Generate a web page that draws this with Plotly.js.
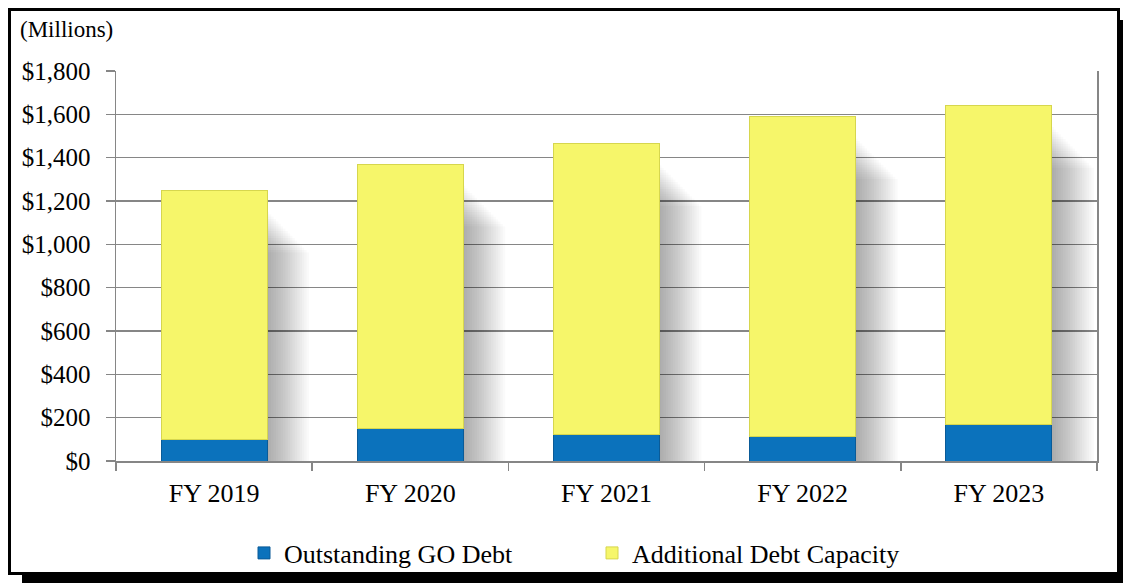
<!DOCTYPE html>
<html>
<head>
<meta charset="utf-8">
<script src="https://cdn.plot.ly/plotly-3.0.1.min.js"></script>
<style>
  html, body { margin: 0; padding: 0; width: 1123px; height: 583px; overflow: hidden; background: #fff; }
  #frame { position: absolute; left: 8px; top: 8px; width: 1106px; height: 561px;
           border: 3px solid #000; box-shadow: 14px 12px 0 #000; background: #fff; }
  #chart { position: absolute; left: 0; top: 0; width: 1123px; height: 583px; }
</style>
</head>
<body>
<div id="frame"></div>
<div id="chart"></div>
<script>
// Data (millions of dollars)
const categories = ['FY 2019', 'FY 2020', 'FY 2021', 'FY 2022', 'FY 2023'];
const outstandingGODebt = [97, 148, 121, 113, 168];
const additionalDebtCapacity = [1153, 1222, 1344, 1475, 1473];
const yTickValues = [0, 200, 400, 600, 800, 1000, 1200, 1400, 1600, 1800];
const yTickLabels = ['$0', '$200', '$400', '$600', '$800', '$1,000', '$1,200', '$1,400', '$1,600', '$1,800'];

const serif = '"Liberation Serif", "Times New Roman", serif';

const traces = [
  {
    type: 'bar', name: 'Outstanding GO Debt', x: categories, y: outstandingGODebt,
    marker: { color: '#0B72BC', line: { color: '#0A5B98', width: 1 } },
    hoverinfo: 'y+name'
  },
  {
    type: 'bar', name: 'Additional Debt Capacity', x: categories, y: additionalDebtCapacity,
    marker: { color: '#F6F66A', line: { color: '#D6D64E', width: 1 } },
    hoverinfo: 'y+name'
  }
];

// soft drop shadows built from the data (many faint layers → blurred look)
const shapes = [];
const halfW = 0.27;
const nLayers = 18;
categories.forEach((c, i) => {
  const total = outstandingGODebt[i] + additionalDebtCapacity[i];
  for (let k = 0; k < nLayers; k++) {
    shapes.push({
      type: 'rect', xref: 'x', yref: 'y', layer: 'between',
      x0: i, x1: i + halfW + 0.01 + k * 0.012,
      y0: 0, y1: Math.max(0, total - 100 - k * 11),
      fillcolor: 'rgba(0,0,0,0.02)', line: { width: 0 }
    });
  }
});

const layout = {
  width: 1123, height: 583,
  margin: { l: 116, r: 26, t: 71, b: 122, autoexpand: false },
  paper_bgcolor: 'rgba(0,0,0,0)', plot_bgcolor: 'rgba(0,0,0,0)',
  barmode: 'stack', bargap: 0.46,
  font: { family: serif, color: '#000' },
  showlegend: true,
  legend: {
    orientation: 'h', xref: 'container', x: 244 / 1123, xanchor: 'left',
    yref: 'container', y: 1 - 553 / 583, yanchor: 'middle',
    font: { family: serif, size: 26, color: '#000' },
    traceorder: 'normal', entrywidth: 303, entrywidthmode: 'pixels'
  },
  xaxis: {
    type: 'category', tickson: 'boundaries', ticks: 'outside', ticklen: 8,
    tickcolor: '#868686', tickwidth: 1.5,
    showline: true, linecolor: '#868686', linewidth: 1.5,
    showgrid: false, ticklabelstandoff: 8,
    tickfont: { family: serif, size: 26, color: '#000' }
  },
  yaxis: {
    range: [0, 1800], tickmode: 'array', tickvals: yTickValues, ticktext: yTickLabels,
    ticks: 'outside', ticklen: 9, tickcolor: '#868686', tickwidth: 1.5,
    showline: true, mirror: true, linecolor: '#868686', linewidth: 1.5,
    showgrid: true, gridcolor: '#868686', gridwidth: 1.5, zeroline: false,
    ticklabelstandoff: 10,
    tickfont: { family: serif, size: 25, color: '#000' }
  },
  shapes: shapes,
  annotations: [{
    text: '(Millions)', xref: 'paper', yref: 'paper', x: -0.1, y: 1.0, yshift: 42,
    xanchor: 'left', yanchor: 'middle', showarrow: false,
    font: { family: serif, size: 23, color: '#000' }
  }]
};

Plotly.newPlot('chart', traces, layout, { displayModeBar: false, staticPlot: true });
</script>
</body>
</html>
